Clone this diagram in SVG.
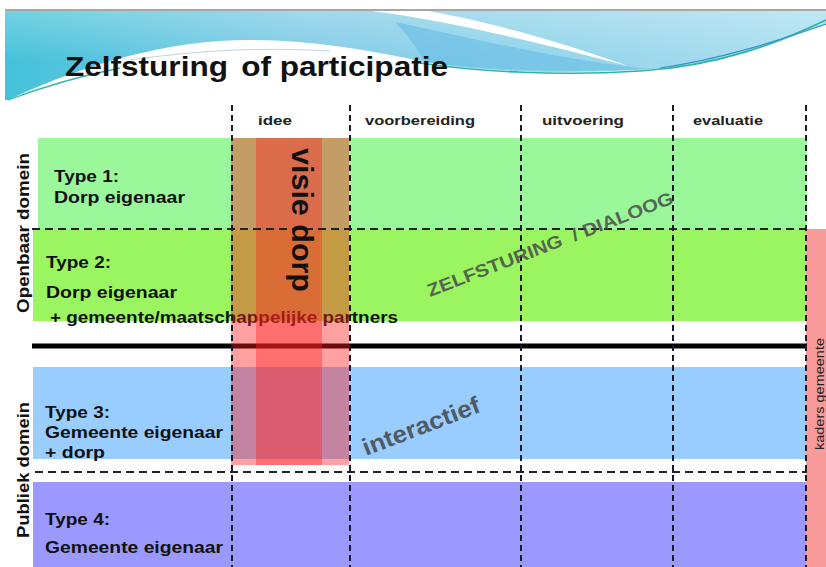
<svg xmlns="http://www.w3.org/2000/svg" width="826" height="567" viewBox="0 0 826 567">
<defs>
<linearGradient id="sky" x1="0" y1="0" x2="1" y2="0">
<stop offset="0" stop-color="#45c2da"/>
<stop offset="0.35" stop-color="#7fcbe6"/>
<stop offset="1" stop-color="#aadff0"/>
</linearGradient>
<linearGradient id="skyv" x1="0" y1="0" x2="0" y2="1">
<stop offset="0" stop-color="#ffffff" stop-opacity="0.25"/>
<stop offset="1" stop-color="#ffffff" stop-opacity="0"/>
</linearGradient>
</defs>
<style>
.sans{font-family:"Liberation Sans",Arial,sans-serif}
.hdr{font-family:"Liberation Sans",Arial,sans-serif;font-size:13.5px;font-weight:bold;fill:#222}
.lbl{font-family:"Liberation Sans",Arial,sans-serif;font-size:17px;font-weight:bold;fill:#111}
.dom{font-family:"Liberation Sans",Arial,sans-serif;font-size:16px;font-weight:bold;fill:#111}
.vdash{stroke:#1a1a2a;stroke-width:2;stroke-dasharray:6 4;fill:none}
.hdash{stroke:#222;stroke-width:2;stroke-dasharray:8 5;fill:none}
</style>
<rect x="0" y="0" width="826" height="567" fill="#ffffff"/>
<g id="header">
<line x1="5" y1="10" x2="826" y2="10" stroke="#888" stroke-width="1.5"/>
<path d="M5,11 H826 V24 C780,42 720,66 640,70 C560,74 480,72 425,62 C370,50 310,40 250,40 C170,40 90,62 8,100 L5,100 Z" fill="url(#sky)"/>
<path d="M5,11 H826 V60 H5 Z" fill="url(#skyv)"/>
<path d="M395,22 C480,40 560,60 650,69 C560,73 480,70 425,62 C415,45 405,32 395,22 Z" fill="#68bde6" opacity="0.6"/>
<path d="M372,11 C450,21 540,43 628,66 C545,36 470,18 428,11 Z" fill="#ffffff"/>
<path d="M420,63 C480,72 560,76 640,71 C720,66 780,42 826,20" stroke="#2db5a5" stroke-width="1.6" fill="none"/>
<path d="M660,68 C730,58 790,36 826,24" stroke="#3a8fd0" stroke-width="1.2" fill="none"/>
<path d="M8,100 C40,88 80,76 120,68" stroke="#38b3a8" stroke-width="1.3" fill="none"/>
<path d="M130,60 C200,50 260,47 330,51" stroke="#8fb8d0" stroke-width="1" fill="none" opacity="0.6"/>
<text x="65" y="76" class="sans" font-size="28" font-weight="bold" fill="#111" textLength="383" lengthAdjust="spacingAndGlyphs">Zelfsturing <tspan dx="4">of participatie</tspan></text>
</g>
<g id="column-headers">
<text x="258" y="125" class="hdr" textLength="34" lengthAdjust="spacingAndGlyphs">idee</text>
<text x="365" y="125" class="hdr" textLength="110" lengthAdjust="spacingAndGlyphs">voorbereiding</text>
<text x="542" y="125" class="hdr" textLength="82" lengthAdjust="spacingAndGlyphs">uitvoering</text>
<text x="693" y="125" class="hdr" textLength="70" lengthAdjust="spacingAndGlyphs">evaluatie</text>
</g>
<g id="type1">
<rect x="38" y="138" width="769" height="91" fill="#9af79a"/>
<text x="54" y="182" class="lbl" textLength="65" lengthAdjust="spacingAndGlyphs">Type 1:</text>
<text x="54" y="203" class="lbl" textLength="131" lengthAdjust="spacingAndGlyphs">Dorp eigenaar</text>
</g>
<g id="type2">
<rect x="33" y="229" width="774" height="92" fill="#9af560"/>
<text x="46" y="268" class="lbl" textLength="65" lengthAdjust="spacingAndGlyphs">Type 2:</text>
<text x="46" y="298" class="lbl" textLength="131" lengthAdjust="spacingAndGlyphs">Dorp eigenaar</text>
<text x="50" y="323" class="lbl" textLength="348" lengthAdjust="spacingAndGlyphs">+ gemeente/maatschappelijke partners</text>
</g>
<g id="type3">
<rect x="33" y="367" width="774" height="92" fill="#99ccff"/>
<text x="45" y="418" class="lbl" textLength="65" lengthAdjust="spacingAndGlyphs">Type 3:</text>
<text x="45" y="438" class="lbl" textLength="178" lengthAdjust="spacingAndGlyphs">Gemeente eigenaar</text>
<text x="45" y="458" class="lbl" textLength="60" lengthAdjust="spacingAndGlyphs">+ dorp</text>
</g>
<g id="type4">
<rect x="33" y="482" width="774" height="85" fill="#9b99fd"/>
<text x="45" y="525" class="lbl" textLength="65" lengthAdjust="spacingAndGlyphs">Type 4:</text>
<text x="45" y="553" class="lbl" textLength="178" lengthAdjust="spacingAndGlyphs">Gemeente eigenaar</text>
</g>
<g id="kaders-gemeente">
<rect x="806" y="229" width="20" height="338" fill="#f99a9a"/>
</g>
<g id="divider">
<line x1="32" y1="346" x2="807" y2="346" stroke="#000" stroke-width="5"/>
</g>
<g id="visie-dorp">
<rect x="231" y="138" width="118" height="327" fill="#ff2020" opacity="0.42"/>
<rect x="256" y="138" width="66" height="327" fill="#ff2020" opacity="0.38"/>
</g>
<g id="connectors">
<line x1="32" y1="229" x2="807" y2="229" class="hdash"/>
<line x1="35" y1="472" x2="807" y2="472" class="hdash"/>
<line x1="232" y1="105" x2="232" y2="567" class="vdash"/>
<line x1="350" y1="105" x2="350" y2="567" class="vdash"/>
<line x1="521" y1="105" x2="521" y2="567" class="vdash"/>
<line x1="673" y1="105" x2="673" y2="567" class="vdash"/>
<line x1="806" y1="105" x2="806" y2="567" class="vdash"/>
</g>
<g id="labels">
<text transform="translate(292,148) rotate(90)" class="sans" font-size="30" font-weight="bold" fill="#111" textLength="144" lengthAdjust="spacingAndGlyphs">visie dorp</text>
<text transform="translate(29,313) rotate(-90)" class="dom" textLength="160" lengthAdjust="spacingAndGlyphs">Openbaar domein</text>
<text transform="translate(29,538) rotate(-90)" class="dom" textLength="136" lengthAdjust="spacingAndGlyphs">Publiek domein</text>
<text transform="translate(824,450) rotate(-90)" class="sans" font-size="12.5" fill="#222" textLength="112" lengthAdjust="spacingAndGlyphs">kaders gemeente</text>
<text transform="translate(430,297) rotate(-21)" class="sans" font-size="18" font-weight="bold" fill="#4a4a4a" fill-opacity="0.85" textLength="262" lengthAdjust="spacingAndGlyphs" xml:space="preserve">ZELFSTURING  / DIALOOG</text>
<text transform="translate(366,456) rotate(-21)" class="sans" font-size="24" font-weight="bold" fill="#505a66" textLength="124" lengthAdjust="spacingAndGlyphs">interactief</text>
</g>
</svg>
